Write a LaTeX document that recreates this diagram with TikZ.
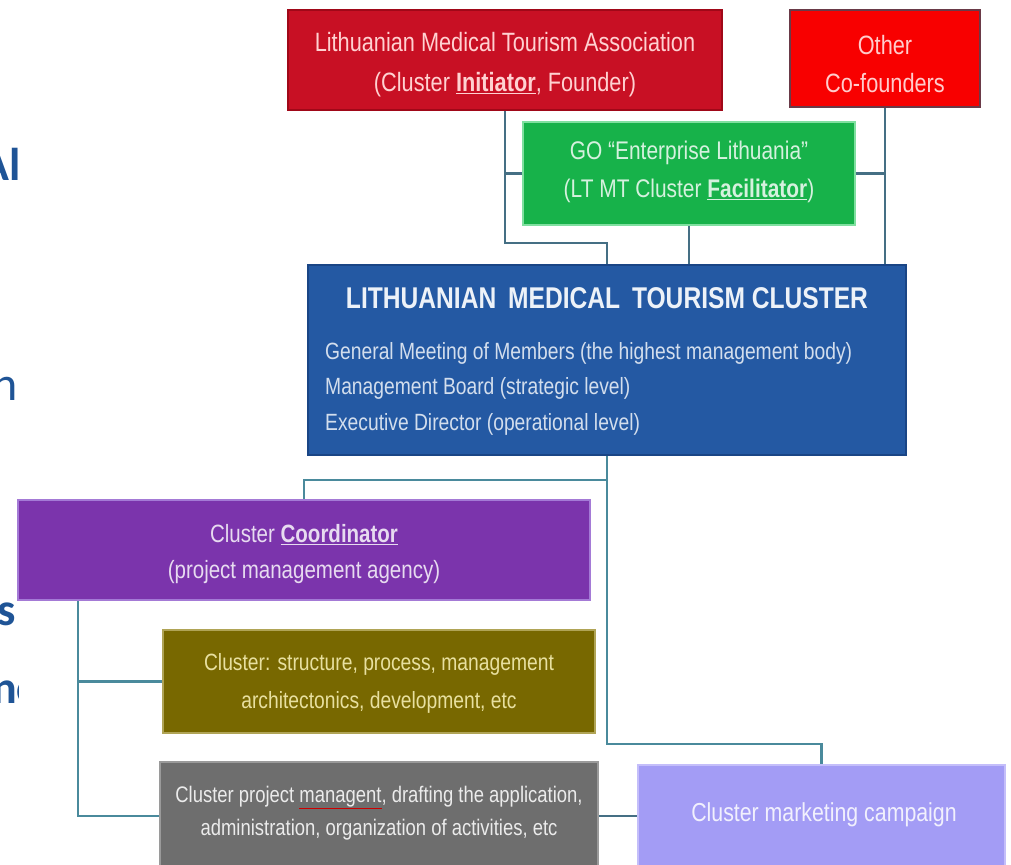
\documentclass[tikz,border=0pt]{standalone}
\usepackage{fontspec}
\setmainfont{Liberation Sans}[FakeStretch=0.82]
\newfontfamily\slidefont{Carlito}
\definecolor{lmtared}{HTML}{C81024}
\definecolor{lmtaedge}{HTML}{A00818}
\definecolor{othred}{HTML}{F80000}
\definecolor{othedge}{HTML}{6A3A48}
\definecolor{grn}{HTML}{17B24A}
\definecolor{grnedge}{HTML}{80E0A0}
\definecolor{blu}{HTML}{2459A3}
\definecolor{bluedge}{HTML}{1A4585}
\definecolor{pur}{HTML}{7B34AC}
\definecolor{puredge}{HTML}{A47AD6}
\definecolor{oli}{HTML}{786800}
\definecolor{oliedge}{HTML}{B0A456}
\definecolor{gry}{HTML}{6E6E6E}
\definecolor{gryedge}{HTML}{9A9A9A}
\definecolor{lav}{HTML}{A39CF5}
\definecolor{lavedge}{HTML}{C4BEFA}
\definecolor{conncol}{HTML}{4A8A9C}
\definecolor{conntop}{HTML}{456F84}
\definecolor{slidetext}{HTML}{1F5496}
\begin{document}
\begin{tikzpicture}[x=1pt,y=-1pt,
  box/.style={draw, line width=1.5pt, inner sep=0pt},
  label/.style={inner sep=0pt, align=center},
  conn/.style={draw=conncol, line width=2.8pt},
  conn2/.style={draw=conntop, line width=2.8pt},
  bgtext/.style={text=slidetext, inner sep=0pt, font=\slidefont\fontsize{48}{50}\selectfont},
  bluetext/.style={text=white!80!blu, inner sep=0pt, anchor=base west, font=\fontsize{23.5}{24}\selectfont}]
\useasboundingbox (0,0) rectangle (1011,864);
\fill[white] (0,0) rectangle (1011,864);
\begin{scope}
\clip (0,0) rectangle (18,864);
\node[bgtext, anchor=base east, font=\slidefont\bfseries\fontsize{46}{50}\selectfont] (fa) at (21,180) {Al};
\node[bgtext, anchor=base east] (fb) at (18,400) {n};
\node[bgtext, anchor=base east, font=\slidefont\bfseries\fontsize{46}{50}\selectfont] (fc) at (16,625) {s};
\node[bgtext, anchor=base west, font=\slidefont\bfseries\fontsize{46}{50}\selectfont] (fd) at (-8,703) {nce};
\end{scope}
\begin{scope}
\clip (0,0) rectangle (1011,864);
% boxes
\node[box, fill=lmtared, draw=lmtaedge, minimum width=434pt, minimum height=100pt] (lmta) at (505,60) {};
\node[label, text=white!82!red, font=\fontsize{26.5}{40}\selectfont] (lmtat) at (505,65)
  {Lithuanian Medical Tourism Association\\(Cluster \textbf{\underline{Initiator}}, Founder)};
\node[box, fill=othred, draw=othedge, minimum width=190pt, minimum height=97pt] (other) at (885,58.5) {};
\node[label, text=white!80!red, font=\fontsize{26.5}{38}\selectfont] (othert) at (885,64)
  {Other\\Co-founders};
\node[box, fill=grn, draw=grnedge, minimum width=332pt, minimum height=103pt] (green) at (689,173.5) {};
\node[label, text=white!82!grn, font=\fontsize{25.5}{38}\selectfont] (greent) at (689,172)
  {GO ``Enterprise Lithuania''\\(LT MT Cluster \textbf{\underline{Facilitator}})};
\node[box, fill=blu, draw=bluedge, minimum width=598pt, minimum height=190pt] (blue) at (607,360) {};
\node[inner sep=0pt, anchor=base, text=white!92!blu, font=\bfseries\fontsize{30}{30}\selectfont] (btitle) at (607,308)
  {LITHUANIAN\hspace{5pt} MEDICAL\hspace{5pt} TOURISM CLUSTER};
\node[bluetext] (bl1) at (325,359) {General Meeting of Members (the highest management body)};
\node[bluetext] (bl2) at (325,394) {Management Board (strategic level)};
\node[bluetext] (bl3) at (325,430) {Executive Director (operational level)};
\node[box, fill=pur, draw=puredge, minimum width=572pt, minimum height=100pt] (purple) at (304,550) {};
\node[label, text=white!82!pur, font=\fontsize{25}{36}\selectfont] (purplet) at (304,554)
  {Cluster \textbf{\underline{Coordinator}}\\(project management agency)};
\node[box, fill=oli, draw=oliedge, minimum width=432pt, minimum height=103pt] (olive) at (379,681.5) {};
\node[label, text={rgb,255:red,232;green,224;blue,160}, font=\fontsize{23.5}{38}\selectfont] (olivet) at (379,683)
  {Cluster: structure, process, management\\architectonics, development, etc};
\node[box, fill=gry, draw=gryedge, minimum width=438pt, minimum height=108pt] (gray) at (379,816) {};
\node[label, text=white!86!gry, font=\fontsize{22.5}{33}\selectfont] (grayt) at (379,813)
  {Cluster project {\color{red!80!black}\underline{\color{white!86!gry}managent}}, drafting the application,\\administration, organization of activities, etc};
\node[box, fill=lav, draw=lavedge, minimum width=367pt, minimum height=103pt] (lavbox) at (821.5,816.5) {};
\node[label, text=white!85!lav, font=\fontsize{26}{27}\selectfont] (lavt) at (824,815)
  {Cluster marketing campaign};
% connectors
\coordinate (k1) at (607,243);
\coordinate (k2) at (607,480);
\coordinate (k3) at (607,744);
\coordinate (k4) at (78,650);
\draw[conn2] (lmta.south) |- (k1) -- (k1 |- blue.north);
\draw[conn2] (green.west) -- (green.west -| lmta.south);
\draw[conn2] (green.south) -- (green.south |- blue.north);
\draw[conn2] (other.south) -- (other.south |- blue.north);
\draw[conn2] (green.east) -- (green.east -| other.south);
\draw[conn] (k2 |- blue.south) -- (k2) -| (purple.north);
\draw[conn] (k2) -- (k3) -| (lavbox.north);
\draw[conn] (k4 |- purple.south) |- (gray.west);
\draw[conn] (olive.west) -- (olive.west -| k4);
\draw[conn2] (gray.east) -- (gray.east -| lavbox.west);
\end{scope}
\end{tikzpicture}
\end{document}
